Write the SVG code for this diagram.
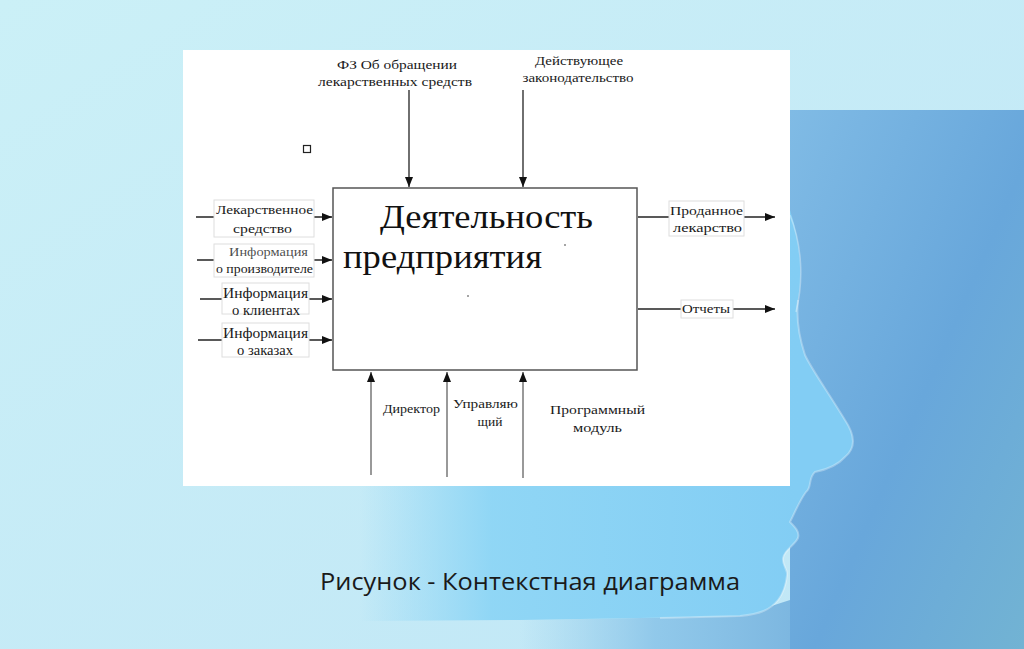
<svg xmlns="http://www.w3.org/2000/svg" width="1024" height="649" viewBox="0 0 1024 649">
<defs>
<linearGradient id="bg" x1="0" y1="0" x2="1" y2="1">
<stop offset="0" stop-color="#cbf0f7"/>
<stop offset="1" stop-color="#c0e6f6"/>
</linearGradient>
<linearGradient id="panel" x1="0" y1="0" x2="1" y2="1">
<stop offset="0" stop-color="#80bbe5"/>
<stop offset="0.55" stop-color="#68a7db"/>
<stop offset="1" stop-color="#72b3d3"/>
</linearGradient>
<linearGradient id="face" x1="360" y1="0" x2="800" y2="0" gradientUnits="userSpaceOnUse">
<stop offset="0" stop-color="#8ad4f5" stop-opacity="0"/>
<stop offset="0.3" stop-color="#8ad4f5" stop-opacity="0.9"/>
<stop offset="1" stop-color="#82cdf4"/>
</linearGradient>
<linearGradient id="under" x1="520" y1="0" x2="790" y2="0" gradientUnits="userSpaceOnUse">
<stop offset="0" stop-color="#8cc8ea" stop-opacity="0"/>
<stop offset="0.5" stop-color="#88c3e8" stop-opacity="0.85"/>
<stop offset="1" stop-color="#7db7e0"/>
</linearGradient>
<marker id="ah" viewBox="0 0 10 8" refX="10" refY="4" markerWidth="10" markerHeight="8" markerUnits="userSpaceOnUse" orient="auto">
<path d="M0,0 L10,4 L0,8 Z" fill="#111"/>
</marker>
<style>
.t{font-family:"Liberation Serif","Times New Roman",serif;font-size:13.5px;fill:#1a1a1a;text-anchor:middle}
.big{font-family:"Liberation Serif","Times New Roman",serif;font-size:34px;fill:#111}
.lb{fill:#fff;stroke:#dedede;stroke-width:1}
.ln{stroke:#222;stroke-width:1.3;fill:none}
.lg{stroke:#555;stroke-width:1.2;fill:none}
.cap{font-family:"Open Sans","Liberation Sans",sans-serif;font-size:23px;fill:#1a1a1a}
</style>
</defs>
<g id="background">
<rect x="0" y="0" width="1024" height="649" fill="url(#bg)"/>
<rect x="790" y="110" width="234" height="539" fill="url(#panel)"/>
<path d="M520,620 L640,618 L740,616 L790,600 L790,649 L520,649 Z" fill="url(#under)"/>
<path d="M360,110 L790,110 L790,210 C800,240 803,275 798,300 C796,320 800,340 805,355 C812,370 830,395 845,420 C855,435 856,448 845,457 C838,465 825,470 815,472 C808,478 812,488 806,492 C800,500 795,512 790,522 C795,527 800,532 798,538 C795,545 784,550 783,558 C782,565 788,570 787,575 C786,585 782,595 778,600 C770,610 760,614 740,616 L640,618 L520,620 L360,621 Z" fill="url(#face)"/>
<path d="M798,300 C796,320 800,340 805,355 C812,370 830,395 845,420 C855,435 856,448 845,457 C838,465 825,470 815,472 C808,478 812,488 806,492 C800,500 795,512 790,522 C795,527 800,532 798,538 C795,545 784,550 783,558 C782,565 788,570 787,575 C786,585 782,595 778,600 C770,610 760,614 740,616 L660,618" fill="none" stroke="#ffffff" stroke-opacity="0.3" stroke-width="2"/>
<path d="M790,215 C802,245 804,280 796,312" fill="none" stroke="#ffffff" stroke-opacity="0.35" stroke-width="1.5"/>
</g>
<rect x="183" y="50" width="607" height="436" fill="#ffffff"/>
<rect x="303.5" y="145.5" width="7" height="7" fill="none" stroke="#222" stroke-width="1.2"/>
<g id="connectors">
<line class="ln" x1="409" y1="90" x2="409" y2="187" marker-end="url(#ah)"/>
<line class="ln" x1="523" y1="90" x2="523" y2="187" marker-end="url(#ah)"/>
<line class="ln" x1="196" y1="217" x2="332" y2="217" marker-end="url(#ah)"/>
<line class="ln" x1="197" y1="260" x2="332" y2="260" marker-end="url(#ah)"/>
<line class="ln" x1="200" y1="299" x2="332" y2="299" marker-end="url(#ah)"/>
<line class="ln" x1="198" y1="340" x2="332" y2="340" marker-end="url(#ah)"/>
<line class="ln" x1="638" y1="217" x2="775" y2="217" marker-end="url(#ah)"/>
<line class="ln" x1="638" y1="309" x2="775" y2="309" marker-end="url(#ah)"/>
<line class="lg" x1="371" y1="475" x2="371" y2="372" marker-end="url(#ah)"/>
<line class="lg" x1="447" y1="477" x2="447" y2="372" marker-end="url(#ah)"/>
<line class="lg" x1="523" y1="478" x2="523" y2="372" marker-end="url(#ah)"/>
</g>
<g id="activity">
<rect x="333" y="188" width="304" height="182" fill="#fff" stroke="#555" stroke-width="1.5"/>
<text class="big" x="380" y="228" textLength="213" lengthAdjust="spacingAndGlyphs">Деятельность</text>
<text class="big" x="343" y="268" textLength="199" lengthAdjust="spacingAndGlyphs">предприятия</text>
<circle cx="565" cy="245" r="0.8" fill="#333"/>
<circle cx="468" cy="296" r="0.8" fill="#333"/>
</g>
<g id="control-fz">
<text class="t" x="397" y="69" textLength="120" lengthAdjust="spacingAndGlyphs">ФЗ Об обращении</text>
<text class="t" x="395" y="86" textLength="154" lengthAdjust="spacingAndGlyphs">лекарственных средств</text>
</g>
<g id="control-law">
<text class="t" x="579" y="65" textLength="88" lengthAdjust="spacingAndGlyphs">Действующее</text>
<text class="t" x="578" y="82" textLength="111" lengthAdjust="spacingAndGlyphs">законодательство</text>
</g>
<g id="input-drug">
<rect class="lb" x="214" y="200" width="100" height="37"/>
<text class="t" x="264.5" y="214" textLength="97" lengthAdjust="spacingAndGlyphs">Лекарственное</text>
<text class="t" x="262.5" y="233" textLength="59" lengthAdjust="spacingAndGlyphs">средство</text>
</g>
<g id="input-manufacturer">
<rect class="lb" x="214" y="244" width="100" height="33"/>
<text class="t" x="268.5" y="256" textLength="79" lengthAdjust="spacingAndGlyphs" fill-opacity="0.8">Информация</text>
<text class="t" x="264.5" y="273" textLength="97" lengthAdjust="spacingAndGlyphs">о производителе</text>
</g>
<g id="input-clients">
<rect class="lb" x="222" y="283" width="87" height="31"/>
<text class="t" x="265.5" y="298" textLength="85" lengthAdjust="spacingAndGlyphs" style="font-size:14.5px">Информация</text>
<text class="t" x="266" y="315" textLength="68" lengthAdjust="spacingAndGlyphs" style="font-size:14.5px">о клиентах</text>
</g>
<g id="input-orders">
<rect class="lb" x="222" y="323" width="87" height="34"/>
<text class="t" x="265.5" y="338" textLength="85" lengthAdjust="spacingAndGlyphs" style="font-size:14.5px">Информация</text>
<text class="t" x="265" y="355" textLength="56" lengthAdjust="spacingAndGlyphs" style="font-size:14.5px">о заказах</text>
</g>
<g id="output-sold">
<rect class="lb" x="669" y="201" width="75" height="35"/>
<text class="t" x="706.5" y="215" textLength="73" lengthAdjust="spacingAndGlyphs">Проданное</text>
<text class="t" x="707.5" y="232" textLength="69" lengthAdjust="spacingAndGlyphs">лекарство</text>
</g>
<g id="output-reports">
<rect class="lb" x="681" y="300" width="52" height="18"/>
<text class="t" x="706" y="313" textLength="48" lengthAdjust="spacingAndGlyphs">Отчеты</text>
</g>
<g id="mech-director">
<text class="t" x="411.5" y="413" textLength="57" lengthAdjust="spacingAndGlyphs">Директор</text>
</g>
<g id="mech-manager">
<text class="t" x="485.5" y="408" textLength="65" lengthAdjust="spacingAndGlyphs">Управляю</text>
<text class="t" x="490" y="426">щий</text>
</g>
<g id="mech-module">
<text class="t" x="597.5" y="414" textLength="95" lengthAdjust="spacingAndGlyphs">Программный</text>
<text class="t" x="597.5" y="432" textLength="49" lengthAdjust="spacingAndGlyphs">модуль</text>
</g>
<text class="cap" x="320" y="590" textLength="420" lengthAdjust="spacingAndGlyphs">Рисунок - Контекстная диаграмма</text>
</svg>
